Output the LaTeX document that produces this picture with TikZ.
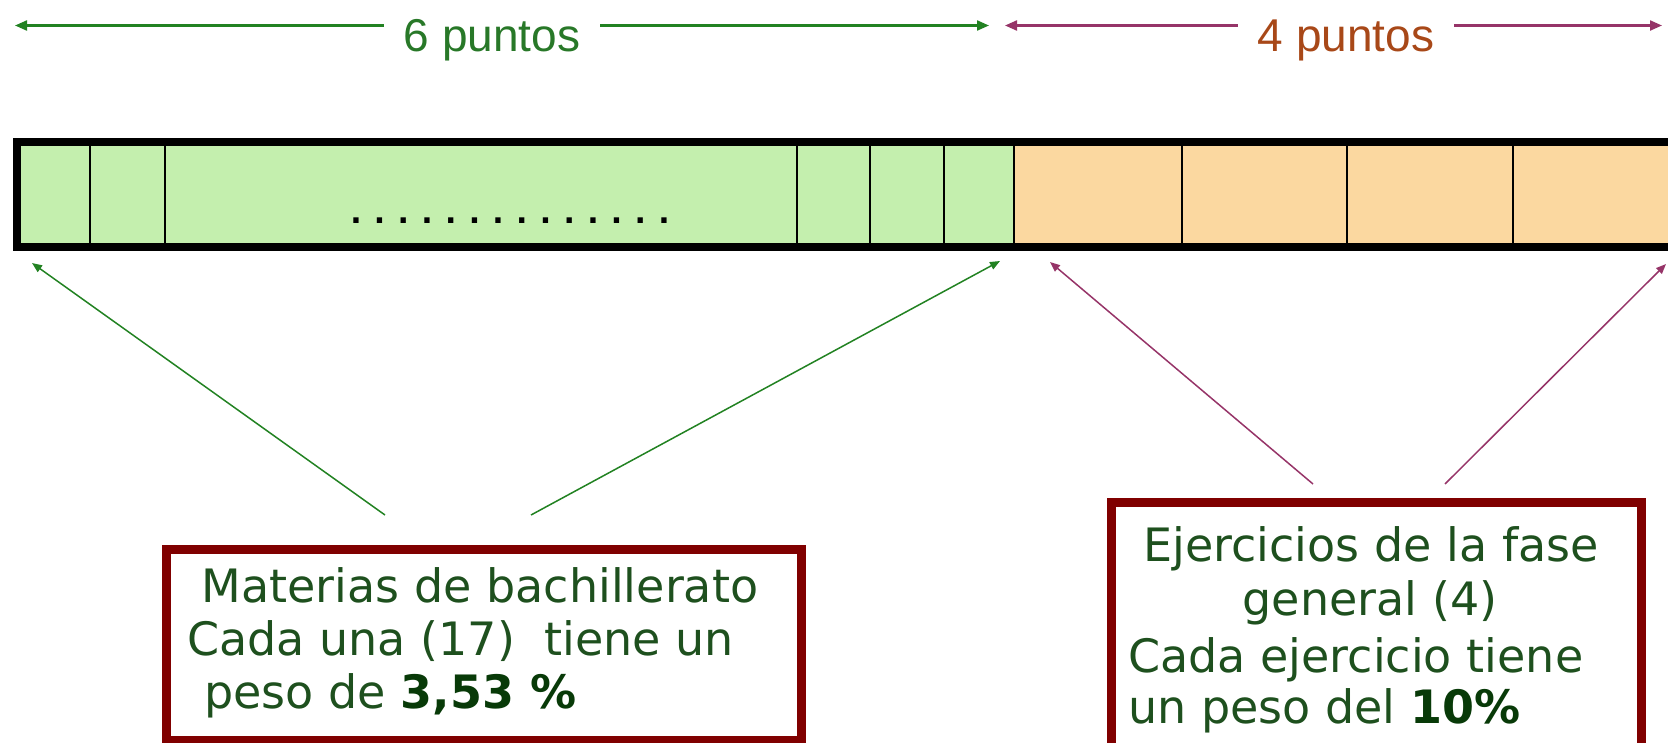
\documentclass[tikz,border=0pt]{standalone}
\usepackage{fontspec}
\setmainfont{DejaVu Sans}
\newfontfamily\arialfont{Liberation Sans}
\usetikzlibrary{arrows.meta}
\definecolor{garrowcol}{RGB}{34,130,34}
\definecolor{gtextcol}{RGB}{40,120,40}
\definecolor{parrowcol}{RGB}{150,52,104}
\definecolor{ptextcol}{RGB}{168,72,24}
\definecolor{bargreen}{RGB}{196,239,174}
\definecolor{barorange}{RGB}{251,216,160}
\definecolor{boxborder}{RGB}{128,0,0}
\definecolor{boxtext}{RGB}{30,80,30}
\definecolor{boldgreen}{RGB}{8,58,8}
\newcommand\dotsp{\hspace{12.3pt}}
\begin{document}
\begin{tikzpicture}[x=1pt,y=-1pt,
  toplabel/.style={font=\arialfont\fontsize{46}{46}\selectfont, inner xsep=20pt, inner ysep=0pt},
  toparrow/.style={line width=2.2pt, -{Triangle[length=12pt,width=10pt]}},
  slant/.style={line width=1.5pt, -{Triangle[length=10pt,width=8pt]}},
  infobox/.style={draw=boxborder, line width=9pt, fill=white, rectangle, inner sep=0pt, anchor=north west},
  btext/.style={font=\fontsize{46}{54}\selectfont, text=boxtext, inner sep=0pt},
  divider/.style={line width=2pt, black}
]
\useasboundingbox (0,0) rectangle (1668,742);
\clip (0,0) rectangle (1668,742);

% top dimension arrows
\coordinate (gL) at (15,25.5);
\coordinate (gR) at (989,25.5);
\node[toplabel, text=gtextcol, anchor=base] (t6) at (492,51) {6 puntos};
\draw[toparrow, garrowcol] (t6.west |- gL) -- (gL);
\draw[toparrow, garrowcol] (t6.east |- gR) -- (gR);

\coordinate (pL) at (1005,25.5);
\coordinate (pR) at (1662,25.5);
\node[toplabel, text=ptextcol, anchor=base] (t4) at (1346,51) {4 puntos};
\draw[toparrow, parrowcol] (t4.west |- pL) -- (pL);
\draw[toparrow, parrowcol] (t4.east |- pR) -- (pR);

% bar
\fill[bargreen] (17,142) rectangle (1014,247);
\fill[barorange] (1014,142) rectangle (1700,247);
\foreach \x in {90,165,797,870,944,1014,1182,1347,1513}
  \draw[divider] (\x,142) -- (\x,247);
\draw[line width=8pt, black] (17,142) rectangle (1700,247);
\node[font=\fontsize{30}{30}\selectfont\bfseries, anchor=base, inner sep=0pt] (dots) at (510,223.5)
  {.\dotsp.\dotsp.\dotsp.\dotsp.\dotsp.\dotsp.\dotsp.\dotsp.\dotsp.\dotsp.\dotsp.\dotsp.\dotsp.};

% slanted connectors
\coordinate (ga) at (385,515);
\coordinate (gb) at (531,515);
\coordinate (gta) at (32,263);
\coordinate (gtb) at (1000,261);
\draw[slant, garrowcol] (ga) -- (gta);
\draw[slant, garrowcol] (gb) -- (gtb);
\coordinate (pa) at (1313,484);
\coordinate (pb) at (1445,484);
\coordinate (pta) at (1050,262);
\coordinate (ptb) at (1666,264);
\draw[slant, parrowcol] (pa) -- (pta);
\draw[slant, parrowcol] (pb) -- (ptb);

% boxes
\node[infobox, minimum width=635pt, minimum height=191pt] (boxA) at (161.5,544.5) {};
\node[btext, anchor=base] (a1) at (480,602) {Materias de bachillerato};
\node[btext, anchor=base west] (a2) at (187,655) {Cada una (17)\ \ tiene un};
\node[btext, anchor=base west] (a3) at (204,708) {peso de \textbf{\color{boldgreen}3,53 \%}};

\node[infobox, minimum width=530pt, minimum height=280pt] (boxB) at (1106.5,497.5) {};
\node[btext, anchor=base] (b1) at (1371,561) {Ejercicios de la fase};
\node[btext, anchor=base] (b2) at (1370,615) {general (4)};
\node[btext, anchor=base west] (b3) at (1128,672) {Cada ejercicio tiene};
\node[btext, anchor=base west] (b4) at (1128,723) {un peso del \textbf{\color{boldgreen}10\%}};
\end{tikzpicture}
\end{document}
